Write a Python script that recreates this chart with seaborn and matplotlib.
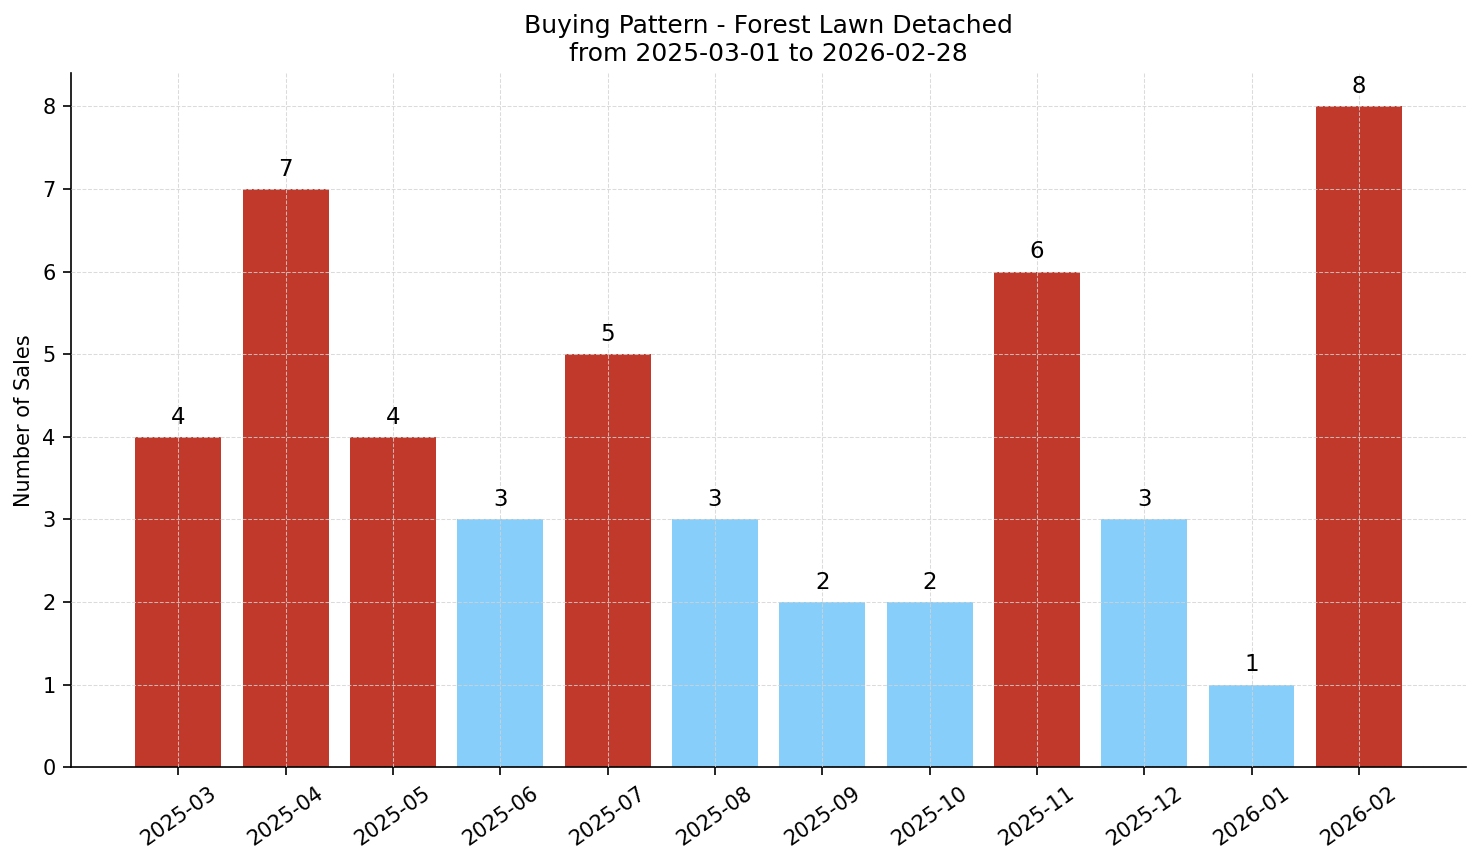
import matplotlib
matplotlib.use("Agg")
import matplotlib.pyplot as plt
import seaborn as sns
import pandas as pd

# Monthly sales counts
months = ["2025-03", "2025-04", "2025-05", "2025-06", "2025-07", "2025-08",
          "2025-09", "2025-10", "2025-11", "2025-12", "2026-01", "2026-02"]
sales = [4, 7, 4, 3, 5, 3, 2, 2, 6, 3, 1, 8]

red = "#c0392b"
blue = "#87cefa"

df = pd.DataFrame({"month": months, "sales": sales})
avg = df["sales"].mean()
df["level"] = ["high" if s >= avg else "low" for s in df["sales"]]

sns.set_style("white")
plt.rcParams.update({"text.color": "black", "axes.labelcolor": "black",
                     "xtick.color": "black", "ytick.color": "black",
                     "axes.edgecolor": "black"})
fig, ax = plt.subplots(figsize=(1481 / 150, 863 / 150), dpi=150)
fig.subplots_adjust(left=0.048, right=0.99, top=0.915, bottom=0.111)

sns.barplot(data=df, x="month", y="sales", hue="level",
            palette={"high": red, "low": blue}, dodge=False,
            width=0.8, saturation=1, legend=False, linewidth=0,
            edgecolor="none", ax=ax)

for i, v in enumerate(sales):
    ax.text(i, v + 0.1, str(v), ha="center", va="bottom", fontsize=11)

ax.set_xlim(-1, 12)
ax.set_ylim(0, 8.4)
ax.set_xlabel("")
ax.set_ylabel("Number of Sales", fontsize=10)
ax.set_title("Buying Pattern - Forest Lawn Detached\nfrom 2025-03-01 to 2026-02-28",
             fontsize=12)
plt.setp(ax.get_xticklabels(), rotation=35)
ax.tick_params(axis="both", labelsize=10, length=4, left=True, bottom=True,
               colors="black")

ax.set_axisbelow(False)
ax.grid(True, linestyle="--", linewidth=0.5, color="lightgray", alpha=0.8)
sns.despine(ax=ax)

plt.savefig("out.png", dpi=150)
